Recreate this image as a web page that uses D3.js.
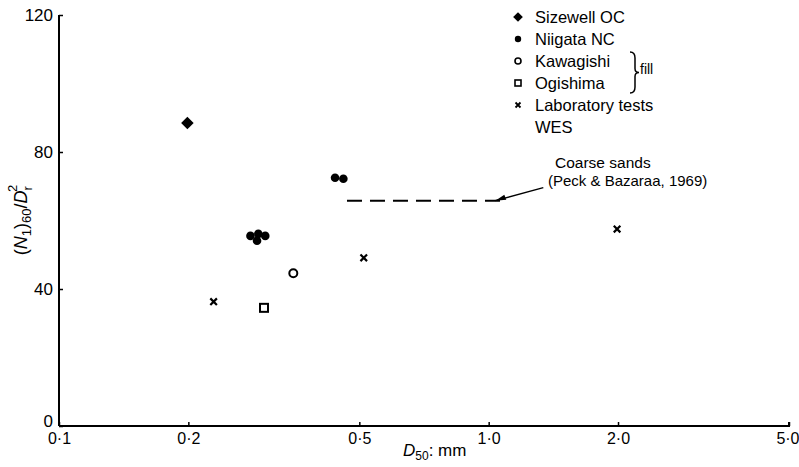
<!DOCTYPE html>
<html><head><meta charset="utf-8">
<script src="https://cdn.jsdelivr.net/npm/d3@7"></script>
<style>
body{margin:0;background:#fff;}
text{font-family:"Liberation Sans",Arial,Helvetica,sans-serif;fill:#000;}
</style></head>
<body><svg id="c" width="799" height="467"></svg>
<script>
// ---- data ----
const xTicks = [0.1, 0.2, 0.5, 1.0, 2.0, 5.0];
const xTickLabels = ["0·1", "0·2", "0·5", "1·0", "2·0", "5·0"];
const yTicks = [0, 40, 80, 120];
const sizewellOC = [[0.199, 88.5]];
const niigataNC = [[0.279, 55.5], [0.291, 56.1], [0.302, 55.5], [0.289, 54.1], [0.439, 72.5], [0.459, 72.2]];
const kawagishi = [[0.351, 44.6]];
const ogishima = [[0.300, 34.5]];
const labTests = [[0.229, 36.3], [0.512, 49.1], [1.99, 57.5]];
const coarseSandsLine = [[0.468, 65.8], [1.07, 65.8]];
const legendLabels = ["Sizewell OC", "Niigata NC", "Kawagishi", "Ogishima", "Laboratory tests", "WES"];

const svg = d3.select("#c");
const x = d3.scaleLog().domain([0.1, 5]).range([59, 789]);
const y = d3.scaleLinear().domain([0, 120]).range([426, 15]);

// axes
const xAxis = d3.axisBottom(x).tickValues(xTicks).tickSize(-4).tickPadding(7)
  .tickFormat((d, i) => xTickLabels[i]);
const gx = svg.append("g").attr("transform", `translate(0,${y(0)})`).call(xAxis);
const yAxis = d3.axisLeft(y).tickValues(yTicks).tickSize(-4).tickPadding(6);
const gy = svg.append("g").attr("transform", `translate(${x(0.1)},0)`).call(yAxis);
[gx, gy].forEach(g => {
  g.select(".domain").attr("stroke", "#000").attr("stroke-width", 2);
  g.selectAll(".tick line").attr("stroke", "#000").attr("stroke-width", 1.5);
  g.selectAll(".tick text").attr("font-size", 17).attr("font-family", "Liberation Sans, Arial, sans-serif").attr("fill", "#000");
});
gx.selectAll(".tick text").attr("font-size", 16);
gy.selectAll(".tick text").filter(d => d === 0).attr("y", -5);
gx.selectAll(".tick text").filter(d => d === 5).attr("text-anchor", "end").attr("x", 10);
gy.select(".domain").attr("d", `M0,${y(120)}V${y(0)}`);
gx.select(".domain").attr("d", `M${x(0.1)},0H${x(5)}V-4`);

// axis titles
const xt = svg.append("text").attr("x", 403).attr("y", 456).attr("font-size", 17);
xt.append("tspan").attr("font-style", "italic").text("D");
xt.append("tspan").attr("font-size", 12).attr("dy", 4).text("50");
xt.append("tspan").attr("dy", -4).text(": mm");

const yt = svg.append("text").attr("transform", "translate(27,220) rotate(-90)")
  .attr("text-anchor", "middle").attr("font-size", 18);
yt.append("tspan").text("(");
yt.append("tspan").attr("font-style", "italic").text("N");
yt.append("tspan").attr("font-size", 13).attr("dy", 4).text("1");
yt.append("tspan").attr("dy", -4).text(")");
yt.append("tspan").attr("font-size", 13).attr("dy", 4).text("60");
yt.append("tspan").attr("dy", -4).text("/");
yt.append("tspan").attr("font-style", "italic").text("D");
yt.append("tspan").attr("font-size", 13).attr("dy", 5).text("r");
yt.append("tspan").attr("font-size", 13).attr("dy", -15).attr("dx", -6).text("2");

// marks
const diamond = d3.symbol().type(d3.symbolDiamond2).size(100);
svg.append("g").selectAll("path").data(sizewellOC).join("path")
  .attr("d", diamond).attr("transform", d => `translate(${x(d[0])},${y(d[1])})`).attr("fill", "#000");
svg.append("g").selectAll("circle").data(niigataNC).join("circle")
  .attr("cx", d => x(d[0])).attr("cy", d => y(d[1])).attr("r", 4.3).attr("fill", "#000");
svg.append("g").selectAll("circle").data(kawagishi).join("circle")
  .attr("cx", d => x(d[0])).attr("cy", d => y(d[1])).attr("r", 4).attr("fill", "#fff").attr("stroke", "#000").attr("stroke-width", 2);
svg.append("g").selectAll("rect").data(ogishima).join("rect")
  .attr("x", d => x(d[0]) - 4).attr("y", d => y(d[1]) - 4).attr("width", 8).attr("height", 8)
  .attr("fill", "#fff").attr("stroke", "#000").attr("stroke-width", 2);
const cross = d3.symbol().type(d3.symbolX).size(30);
svg.append("g").selectAll("path").data(labTests).join("path")
  .attr("d", cross).attr("transform", d => `translate(${x(d[0])},${y(d[1])})`)
  .attr("fill", "none").attr("stroke", "#000").attr("stroke-width", 2.2);

// coarse sands line
svg.append("path").datum(coarseSandsLine)
  .attr("d", d3.line().x(d => x(d[0])).y(d => y(d[1])))
  .attr("stroke", "#000").attr("stroke-width", 2).attr("stroke-dasharray", "15,8").attr("fill", "none");
const ax0 = x(coarseSandsLine[1][0]) - 6, ay0 = y(coarseSandsLine[1][1]);
svg.append("path").attr("d", `M${ax0},${ay0}L${ax0 + 48},${ay0 - 13}`).attr("stroke", "#000").attr("stroke-width", 1.5);
svg.append("path").attr("d", `M${ax0},${ay0}l9,-6l2,5z`).attr("fill", "#000");
svg.append("text").attr("x", 555).attr("y", 168).attr("font-size", 15.5).text("Coarse sands");
svg.append("text").attr("x", 548).attr("y", 186).attr("font-size", 15).text("(Peck & Bazaraa, 1969)");

// legend
const lg = svg.append("g");
const lx = 518, ly0 = 17, ldy = 22;
legendLabels.forEach((t, i) => {
  lg.append("text").attr("x", lx + 17).attr("y", ly0 + i * ldy + 6).attr("font-size", 16.5).text(t);
});
lg.append("path").attr("d", diamond.size(60)).attr("transform", `translate(${lx},${ly0})`);
lg.append("circle").attr("cx", lx).attr("cy", ly0 + ldy).attr("r", 3.2);
lg.append("circle").attr("cx", lx).attr("cy", ly0 + 2 * ldy).attr("r", 3).attr("fill", "#fff").attr("stroke", "#000").attr("stroke-width", 1.6);
lg.append("rect").attr("x", lx - 3).attr("y", ly0 + 3 * ldy - 3).attr("width", 6).attr("height", 6).attr("fill", "#fff").attr("stroke", "#000").attr("stroke-width", 1.6);
lg.append("path").attr("d", d3.symbol().type(d3.symbolX).size(18)).attr("transform", `translate(${lx},${ly0 + 4 * ldy})`)
  .attr("stroke", "#000").attr("stroke-width", 1.8);
// brace
const by0 = ly0 + 2 * ldy - 9, by1 = ly0 + 3 * ldy + 10, bx = 630, bm = (by0 + by1) / 2;
lg.append("path").attr("d", `M${bx},${by0}Q${bx + 5},${by0} ${bx + 5},${by0 + 6}L${bx + 5},${bm - 4}Q${bx + 5},${bm} ${bx + 9},${bm}Q${bx + 5},${bm} ${bx + 5},${bm + 4}L${bx + 5},${by1 - 6}Q${bx + 5},${by1} ${bx},${by1}`)
  .attr("fill", "none").attr("stroke", "#000").attr("stroke-width", 1.5);
lg.append("text").attr("x", bx + 10).attr("y", bm + 1).attr("font-size", 14).text("fill");
</script></body></html>
